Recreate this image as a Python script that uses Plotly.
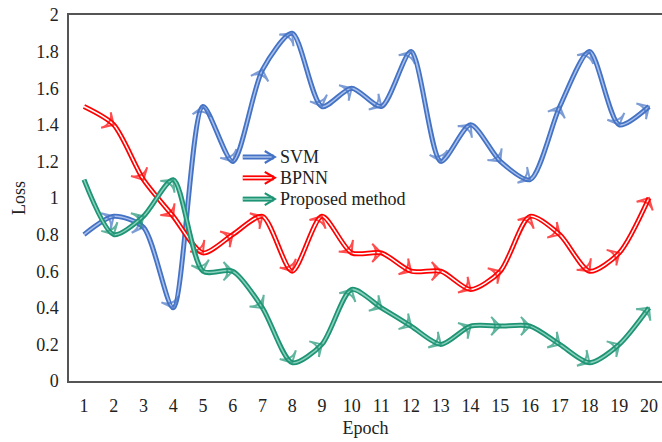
import plotly.graph_objects as go

epochs = list(range(1, 21))
svm = [0.8, 0.9, 0.84, 0.4, 1.5, 1.2, 1.7, 1.9, 1.5, 1.6, 1.5, 1.8, 1.2, 1.4, 1.2, 1.1, 1.5, 1.8, 1.4, 1.5]
bpnn = [1.5, 1.4, 1.1, 0.9, 0.7, 0.8, 0.9, 0.6, 0.9, 0.7, 0.7, 0.6, 0.6, 0.5, 0.6, 0.9, 0.8, 0.6, 0.7, 1.0]
proposed = [1.1, 0.8, 0.9, 1.1, 0.6, 0.6, 0.4, 0.1, 0.2, 0.5, 0.4, 0.3, 0.2, 0.3, 0.3, 0.3, 0.2, 0.1, 0.2, 0.4]

series = [
    ("SVM", svm, "#4472C4", "#A9C0EA"),
    ("BPNN", bpnn, "#FF0000", "#FFFFFF"),
    ("Proposed method", proposed, "#1E9475", "#8CD1BD"),
]

FONT = "Liberation Serif, Times New Roman, serif"
SMOOTH = 0.75
fig = go.Figure()

for name, vals, outer, inner in series:
    # thick coloured stroke
    fig.add_trace(go.Scatter(
        x=epochs, y=vals, mode="lines", showlegend=False,
        line=dict(color=outer, width=5, shape="spline", smoothing=SMOOTH),
        hoverinfo="skip",
    ))
    # light core line plus arrowheads pointing along the path
    sizes = [0] + [13] * (len(vals) - 1)
    fig.add_trace(go.Scatter(
        x=epochs, y=vals, mode="lines+markers", name=name, showlegend=False,
        line=dict(color=inner, width=1.5, shape="spline", smoothing=SMOOTH),
        marker=dict(symbol="arrow-wide-open", size=sizes, angleref="previous",
                    color=outer, line=dict(color=outer, width=2)),
    ))

# Legend: short double-stroke arrows with labels (paper coordinates of the plot area)
PW, PH = 593.0, 366.0
x0, x1 = 0.293, 0.347
head_dx, head_dy = 10 / PW, 6 / PH
legend_y = [0.612, 0.555, 0.497]
for (name, vals, outer, inner), ly in zip(series, legend_y):
    fig.add_shape(type="line", xref="paper", yref="paper", x0=x0, x1=x1 - 0.002,
                  y0=ly, y1=ly, line=dict(color=outer, width=5))
    fig.add_shape(type="line", xref="paper", yref="paper", x0=x0, x1=x1 - 0.004,
                  y0=ly, y1=ly, line=dict(color=inner, width=1.5))
    fig.add_shape(type="path", xref="paper", yref="paper",
                  path=f"M {x1 - head_dx},{ly + head_dy} L {x1},{ly} L {x1 - head_dx},{ly - head_dy}",
                  line=dict(color=outer, width=2.2))
    fig.add_annotation(
        xref="paper", yref="paper", x=x1 + 0.006, y=ly, xanchor="left", yanchor="middle",
        text=name, showarrow=False, font=dict(family=FONT, size=18, color="#222"),
    )

fig.update_layout(
    width=662, height=442,
    margin=dict(l=69, r=0, t=15, b=61),
    paper_bgcolor="white", plot_bgcolor="white",
    font=dict(family=FONT, size=18, color="#222"),
    showlegend=False,
    xaxis=dict(
        range=[0.496, 20.437], tickvals=epochs, ticktext=[str(e) for e in epochs],
        showgrid=False, zeroline=False, showline=True, mirror=True,
        linecolor="#555", linewidth=1.5, ticks="", ticklabelstandoff=8,
        title=dict(text="Epoch", font=dict(family=FONT, size=18), standoff=6),
    ),
    yaxis=dict(
        range=[0, 2], tickvals=[0, 0.2, 0.4, 0.6, 0.8, 1, 1.2, 1.4, 1.6, 1.8, 2],
        ticktext=["0", "0.2", "0.4", "0.6", "0.8", "1", "1.2", "1.4", "1.6", "1.8", "2"],
        showgrid=False, zeroline=False, showline=True, mirror=False,
        linecolor="#555", linewidth=1.5, ticks="", ticklabelstandoff=5,
        title=dict(text="Loss", font=dict(family=FONT, size=18), standoff=6),
    ),
)

fig.write_html("out.html")
